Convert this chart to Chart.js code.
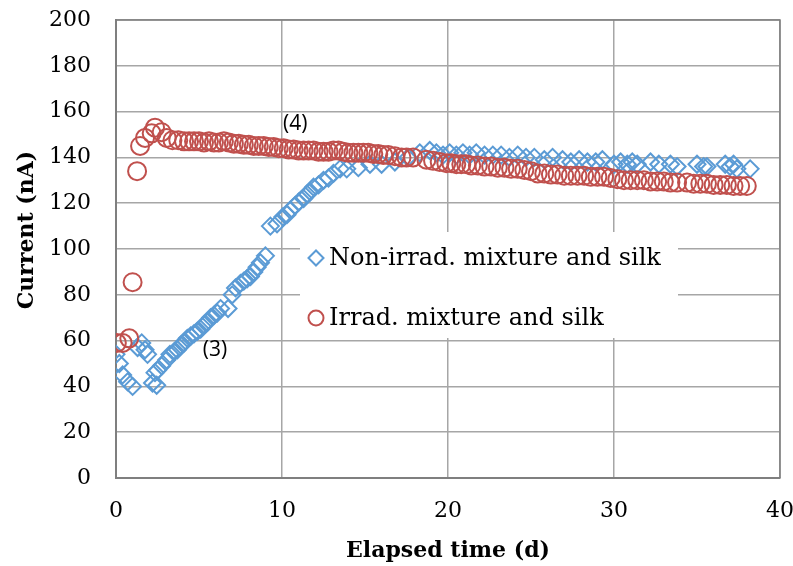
<!DOCTYPE html>
<html>
<head>
<meta charset="utf-8">
<script src="https://cdn.jsdelivr.net/npm/chart.js@4/dist/chart.umd.min.js"></script>
<style>
    html, body { margin: 0; padding: 0; background: #fff; }
    #wrap { width: 793px; height: 566px; position: relative; }
</style>
</head>
<body>
<div id="wrap"><canvas id="grafico"></canvas></div>
<script>
// -------------------------------
// Dados
// -------------------------------
const seriesNames = ['Non-irrad. mixture and silk', 'Irrad. mixture and silk'];

const nonIrradDays = [0.0, 0.2, 0.4, 0.7, 1.0, 1.3, 1.55, 1.75, 1.9, 2.2, 2.35, 2.45, 2.5, 2.75, 3.05, 3.25, 3.5, 3.7, 3.9, 4.1,
    4.3, 4.5, 4.7, 4.9, 5.1, 5.3, 5.5, 5.7, 5.9, 6.1, 6.3, 6.75, 7.0, 7.2, 7.5, 7.7, 7.9, 8.1, 8.3, 8.5,
    8.7, 9.0, 9.3, 9.7, 10.05, 10.3, 10.5, 10.8, 11.0, 11.3, 11.5, 11.7, 11.9, 12.2, 12.5, 12.8, 13.1, 13.5, 13.9, 14.6,
    15.3, 16.0, 16.8, 17.6, 18.3, 18.9, 19.3, 19.7, 20.1, 20.5, 20.9, 21.3, 21.7, 22.2, 22.7, 23.2, 23.7, 24.2, 24.7, 25.2,
    25.8, 26.3, 26.9, 27.4, 27.9, 28.4, 28.9, 29.3, 30.0, 30.4, 30.8, 31.1, 31.4, 32.2, 32.7, 33.4, 33.8, 35.0, 35.4, 35.6,
    36.7, 37.0, 37.2, 37.4, 38.2];
const nonIrradCurrent = [54, 50, 45, 42, 40, 57, 59, 56, 54, 41.5, 46, 40.5, 47, 49, 51.5, 54, 55, 56, 58, 59,
    61, 62, 63, 64, 65, 67, 68, 70, 71, 72, 74, 74, 80, 83, 85, 86, 87, 88, 90, 92,
    94, 97, 110, 111, 114, 115, 117, 119, 120.5, 122, 124, 125, 127, 128, 130, 131, 133, 135, 135, 135.5,
    137, 137, 138, 140, 142, 143, 142, 141, 142, 141, 142, 141, 142, 141, 141, 141, 140, 141, 140, 140,
    139, 140, 139, 138, 139, 138, 138, 139, 137, 138, 137, 138, 137, 138, 137, 137, 136, 137, 136, 136,
    137, 136, 137, 135, 135];

const irradDays = [0.05, 0.4, 0.8, 1.0, 1.27, 1.45, 1.75, 2.15, 2.35, 2.75, 3.05, 3.4, 3.75, 4.1, 4.4, 4.7, 5.0, 5.3, 5.6, 5.9,
    6.2, 6.5, 6.8, 7.1, 7.4, 7.7, 8.0, 8.3, 8.6, 8.9, 9.2, 9.5, 9.8, 10.1, 10.4, 10.7, 11.0, 11.3, 11.6, 11.9,
    12.2, 12.5, 12.8, 13.1, 13.4, 13.7, 14.0, 14.3, 14.6, 14.9, 15.2, 15.5, 15.8, 16.1, 16.4, 16.8, 17.2, 17.5, 17.9, 18.7,
    19.1, 19.5, 19.9, 20.2, 20.5, 20.8, 21.1, 21.4, 21.8, 22.2, 22.6, 23.0, 23.4, 23.8, 24.2, 24.6, 25.0, 25.4, 25.8, 26.2,
    26.6, 27.0, 27.4, 27.8, 28.2, 28.6, 29.0, 29.4, 29.8, 30.2, 30.6, 31.0, 31.4, 31.8, 32.2, 32.6, 33.0, 33.4, 33.8, 34.4,
    34.8, 35.2, 35.6, 36.0, 36.4, 36.8, 37.2, 37.6, 38.0];
const irradCurrent = [59, 59, 61, 85.5, 134, 145, 148.5, 150.5, 153, 151, 148.5, 147.5, 147.5, 147, 147, 147, 147, 146.5, 147, 146.5,
    146.5, 147, 146.5, 146, 146, 145.5, 145.5, 145, 145, 145, 144.5, 144.5, 144, 144, 143.5, 143.5, 143, 143, 143, 143,
    142.5, 142.5, 142.5, 143, 143, 142.5, 142, 142, 142, 142, 142, 141.5, 141.5, 141, 141, 140.5, 140, 140, 140, 139,
    138.5, 138, 137.5, 137.5, 137, 137, 137, 136.5, 136.5, 136, 136, 135.5, 135.5, 135, 135, 134.5, 134, 133, 133, 132.5,
    132.5, 132, 132, 132, 132, 131.5, 131.5, 131.5, 131, 130.5, 130, 130, 130, 130, 129.5, 129.5, 129.5, 129, 129, 129,
    128.5, 128.5, 128.5, 128, 128, 128, 127.5, 127.5, 127.5];

const xTicks = [0, 10, 20, 30, 40];
const yTicks = [0, 20, 40, 60, 80, 100, 120, 140, 160, 180, 200];
const xTitle = 'Elapsed time (d)';
const yTitle = 'Current (nA)';
// rótulos (3) e (4) em coordenadas dos dados
const notes = [{ text: '(3)', x: 5.96, y: 55.9 }, { text: '(4)', x: 10.8, y: 154.6 }];

const corAzul = '#5b9bd5';
const corVermelha = '#c0504d';
const fonteSerif = '"DejaVu Serif", serif';

// -------------------------------
// Plugin: títulos, legenda, notas
// -------------------------------
const extras = {
    id: 'extras',
    afterDraw(chart) {
        const ctx = chart.ctx;
        const area = chart.chartArea;
        const sx = chart.scales.x, sy = chart.scales.y;
        ctx.save();

        // moldura superior e direita
        ctx.strokeStyle = '#7f7f7f';
        ctx.lineWidth = 1.5;
        ctx.beginPath();
        ctx.moveTo(area.left, area.top);
        ctx.lineTo(area.right, area.top);
        ctx.lineTo(area.right, area.bottom);
        ctx.stroke();

        // títulos dos eixos
        ctx.fillStyle = '#000';
        ctx.font = 'bold 22px ' + fonteSerif;
        ctx.textAlign = 'center';
        ctx.textBaseline = 'middle';
        ctx.fillText(xTitle, (area.left + area.right) / 2, 551);
        ctx.save();
        ctx.translate(27, (area.top + area.bottom) / 2 - 19);
        ctx.rotate(-Math.PI / 2);
        ctx.fillText(yTitle, 0, 0);
        ctx.restore();

        // notas
        ctx.font = '21px "Open Sans", sans-serif';
        notes.forEach(n => ctx.fillText(n.text, sx.getPixelForValue(n.x), sy.getPixelForValue(n.y)));

        // legenda
        const lx = area.left + 184, ly = area.top + 212;
        ctx.fillStyle = '#fff';
        ctx.fillRect(lx, ly, 378, 106);
        ctx.font = '24px ' + fonteSerif;
        ctx.textAlign = 'left';
        const itens = [[seriesNames[0], corAzul, 'rectRot'], [seriesNames[1], corVermelha, 'circle']];
        itens.forEach((it, i) => {
            const cy = ly + 26 + i * 60;
            ctx.strokeStyle = it[1];
            ctx.fillStyle = 'rgba(0,0,0,0)';
            ctx.lineWidth = 2;
            Chart.helpers.drawPoint(ctx, { pointStyle: it[2], radius: 7.5, borderWidth: 2 }, lx + 16, cy);
            ctx.fillStyle = '#000';
            ctx.fillText(it[0], lx + 29, cy + 1);
        });
        ctx.restore();
    }
};

// -------------------------------
// Gráfico
// -------------------------------
const toPoints = (xs, ys) => xs.map((x, i) => ({ x, y: ys[i] }));

new Chart(document.getElementById('grafico'), {
    type: 'scatter',
    data: {
        datasets: [
            { label: seriesNames[0], data: toPoints(nonIrradDays, nonIrradCurrent), pointStyle: 'rectRot',
              pointRadius: 8.5, borderColor: corAzul, backgroundColor: 'rgba(0,0,0,0)', borderWidth: 2, order: 2 },
            { label: seriesNames[1], data: toPoints(irradDays, irradCurrent), pointStyle: 'circle',
              pointRadius: 9, borderColor: corVermelha, backgroundColor: 'rgba(0,0,0,0)', borderWidth: 2, order: 1 }
        ]
    },
    options: {
        responsive: true,
        maintainAspectRatio: false,
        animation: false,
        layout: { padding: { top: 20, right: 13, left: 0, bottom: 0 } },
        plugins: { legend: { display: false }, tooltip: { enabled: false } },
        scales: {
            x: {
                type: 'linear', min: 0, max: 40,
                afterBuildTicks: s => { s.ticks = xTicks.map(v => ({ value: v })); },
                afterFit: s => { s.height = 88; s.paddingLeft = 0; s.paddingRight = 0; },
                grid: { color: '#a6a6a6', lineWidth: 1.5, drawTicks: false },
                border: { color: '#7f7f7f', width: 2 },
                ticks: { padding: 20, color: '#000', font: { family: fonteSerif, size: 22 } }
            },
            y: {
                type: 'linear', min: 0, max: 200,
                afterBuildTicks: s => { s.ticks = yTicks.map(v => ({ value: v })); },
                afterFit: s => { s.width = 116; s.paddingTop = 0; s.paddingBottom = 0; },
                grid: { color: '#a6a6a6', lineWidth: 1.5, drawTicks: false },
                border: { color: '#7f7f7f', width: 2 },
                ticks: { padding: 25, color: '#000', font: { family: fonteSerif, size: 22 } }
            }
        }
    },
    plugins: [extras]
});
</script>
</body>
</html>
